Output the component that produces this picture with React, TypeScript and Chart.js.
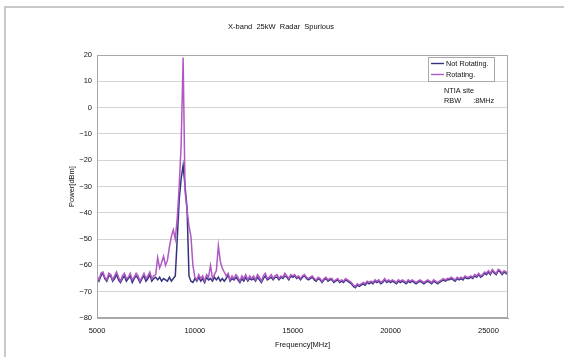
import React, { useEffect, useRef } from 'react';
import { Chart, registerables } from 'chart.js';

Chart.register(...registerables);

// ---- data ----
const FREQ_START = 5000; // MHz, first sweep point
const FREQ_STEP = 100; // MHz between sweep points

// Not Rotating (dBm), 5000 .. 26000 MHz
const NOT_ROTATING: number[] = [
  -64.5, -66, -64, -63, -65, -66, -64, -64, -66, -65,
  -63.5, -65.5, -66.5, -65, -64, -66, -65, -64, -66.5, -65,
  -64, -65, -66.5, -65, -64, -66, -65, -63.5, -66, -65,
  -64.5, -65.5, -64.5, -66, -65, -65.5, -66, -64.5, -66, -65,
  -64, -50, -35, -27, -22, -30, -38, -64, -66, -66.5,
  -65, -66, -64.5, -66, -65, -66.5, -64.5, -65.5, -65, -66,
  -64.5, -65.5, -64.5, -66, -65, -66, -65, -63.5, -66, -65,
  -65.5, -64.5, -65.5, -66.5, -65, -66, -64.5, -66, -65, -65.5,
  -65, -66, -64.5, -65.5, -66.5, -65, -64, -65.5, -65, -64.5,
  -65.5, -64.5, -64.5, -65.5, -64.5, -65, -64, -64.5, -65.5, -64,
  -64.5, -64, -65, -64.5, -65.5, -64.5, -64, -65, -65.5, -65,
  -64.5, -65.5, -66, -65, -65.5, -66.5, -65.5, -65, -66, -65.5,
  -65.5, -66.5, -66, -65.5, -66.5, -66, -66.5, -65.5, -66, -66.5,
  -67, -68, -68.5, -67.5, -68, -67.5, -67, -67.5, -66.5, -67,
  -66.5, -67, -66, -66.5, -66, -67, -66.5, -65.5, -66.5, -66,
  -66.5, -66, -66.5, -67, -66, -66.5, -66, -66.5, -67, -66,
  -66.5, -66, -66.5, -67, -66.5, -66, -66.5, -67, -66.5, -66,
  -66.5, -67, -66, -66.5, -67, -66.5, -66, -65.5, -66, -65.5,
  -65.5, -65, -65.5, -66, -65, -65.5, -65, -65.5, -64.5, -65,
  -65, -64.5, -65, -64, -64.5, -63.5, -64.5, -64, -63, -63.5,
  -62.5, -63.5, -62, -63, -63.5, -62, -62.5, -63.5, -62.5, -63,
  -63.5,
];

// Rotating (dBm), 5000 .. 26000 MHz
const ROTATING: number[] = [
  -64, -65.5, -63, -62.5, -64.5, -65.5, -63, -63.5, -65.5, -64,
  -62.5, -64.5, -66, -64, -63, -65, -64.5, -63, -65.5, -64.5,
  -63, -64, -66, -64.5, -63, -65, -64, -62.5, -65, -64,
  -63.5, -57, -61, -59, -56.5, -60, -58, -53, -49, -46.5,
  -50, -42, -30, -14, 19, -32, -39, -45, -49, -60,
  -64.5, -65.5, -63.5, -65, -64, -66, -63.5, -64.5, -60, -65,
  -63.5, -62, -52.5, -58.5, -61, -62.5, -64, -63, -65.5, -64,
  -65, -63.5, -64.5, -66, -64, -65, -63.5, -65.5, -64, -65,
  -64, -65.5, -63.5, -64.5, -66, -64, -63, -65, -64.5, -63.5,
  -65, -64, -63.5, -65, -64, -64.5, -63, -64, -65, -63.5,
  -64, -63.5, -64.5, -64, -65, -64, -63.5, -64.5, -65, -64.5,
  -64, -65, -65.5, -64.5, -65, -66, -65, -64.5, -65.5, -65,
  -65, -66, -65.5, -65, -66, -65.5, -66, -65, -65.5, -66,
  -66.5, -67.5, -68, -67, -67.5, -67, -66.5, -67, -66, -66.5,
  -66, -66.5, -65.5, -66, -65.5, -66.5, -66, -65, -66, -65.5,
  -66, -65.5, -66, -66.5, -65.5, -66, -65.5, -66, -66.5, -65.5,
  -66, -65.5, -66, -66.5, -66, -65.5, -66, -66.5, -66, -65.5,
  -66, -66.5, -65.5, -66, -66.5, -66, -65.5, -65, -65.5, -65,
  -65, -64.5, -65, -65.5, -64.5, -65, -64.5, -65, -64, -64.5,
  -64.5, -64, -64.5, -63.5, -64, -63, -64, -63.5, -62.5, -63,
  -62, -63, -61.5, -62.5, -63, -61.5, -62, -63, -62, -62.5,
  -63,
];

const X_TICKS = [5000, 10000, 15000, 20000, 25000];
const X_MIN = 5000;
const X_MAX = 26000;
const Y_MIN = -80;
const Y_MAX = 20;
const Y_STEP = 10;

const TITLE = 'X-band  25kW  Radar  Spurious';
const SERIES_NAMES = ['Not Rotating.', 'Rotating.'];
const SERIES_COLORS = ['#33337f', '#b058c4'];
const NOTE_LINES = ['NTIA site', 'RBW      :8MHz'];
const X_TITLE = 'Frequency[MHz]';
const Y_TITLE = 'Power[dBm]';

const FONT = "'Liberation Sans', Arial, sans-serif";
const TEXT = '#111111';
const BORDER = '#a8a8a8';
const GRID = '#d4d4d4';

const toPoints = (vals: number[]) =>
  vals.map((v, i) => ({ x: FREQ_START + i * FREQ_STEP, y: v }));

const overlay = {
  id: 'overlay',
  afterDraw(chart: any) {
    const { ctx, chartArea: a } = chart;
    ctx.save();
    // plot frame
    ctx.strokeStyle = BORDER;
    ctx.lineWidth = 1;
    ctx.strokeRect(
      Math.round(a.left) + 0.5,
      Math.round(a.top) + 0.5,
      Math.round(a.right - a.left) - 1,
      Math.round(a.bottom - a.top) - 1
    );
    // title
    ctx.fillStyle = TEXT;
    ctx.font = `7.5px ${FONT}`;
    ctx.textAlign = 'center';
    ctx.textBaseline = 'middle';
    ctx.fillText(TITLE, 281, 27);
    // legend box
    const lx = 428, ly = 57, lw = 66, lh = 24;
    ctx.fillStyle = '#ffffff';
    ctx.fillRect(lx, ly, lw, lh);
    ctx.strokeStyle = BORDER;
    ctx.lineWidth = 1;
    ctx.strokeRect(lx + 0.5, ly + 0.5, lw, lh);
    ctx.font = `7.3px ${FONT}`;
    ctx.textAlign = 'left';
    SERIES_NAMES.forEach((name, i) => {
      const y = ly + 6.5 + i * 11;
      ctx.strokeStyle = SERIES_COLORS[i];
      ctx.lineWidth = 1.4;
      ctx.beginPath();
      ctx.moveTo(lx + 3, y);
      ctx.lineTo(lx + 16, y);
      ctx.stroke();
      ctx.fillStyle = TEXT;
      ctx.fillText(name, lx + 18, y);
    });
    // note
    ctx.font = `7.3px ${FONT}`;
    NOTE_LINES.forEach((t, i) => {
      ctx.fillText(t, 444, 91 + i * 10);
    });
    ctx.restore();
  },
};

export default function App() {
  const ref = useRef<HTMLCanvasElement | null>(null);

  useEffect(() => {
    if (!ref.current) return;
    const chart = new Chart(ref.current, {
      type: 'line',
      data: {
        datasets: [
          {
            label: SERIES_NAMES[0],
            data: toPoints(NOT_ROTATING),
            borderColor: SERIES_COLORS[0],
            borderWidth: 1.5,
            pointRadius: 0,
            tension: 0,
            order: 1,
          },
          {
            label: SERIES_NAMES[1],
            data: toPoints(ROTATING),
            borderColor: SERIES_COLORS[1],
            borderWidth: 1.5,
            pointRadius: 0,
            tension: 0,
            order: 0,
          },
        ],
      },
      options: {
        animation: false,
        responsive: false,
        devicePixelRatio: 1,
        parsing: false as any,
        layout: { padding: { left: 0, top: 55, right: 56, bottom: 0 } },
        plugins: {
          legend: { display: false },
          title: { display: false },
          tooltip: { enabled: false },
        },
        scales: {
          x: {
            type: 'linear',
            min: X_MIN,
            max: X_MAX,
            afterBuildTicks: (s: any) => {
              s.ticks = X_TICKS.map((v) => ({ value: v }));
            },
            afterFit: (s: any) => {
              s.height = 39;
            },
            grid: { display: false, drawTicks: false },
            border: { display: true, color: BORDER },
            ticks: {
              padding: 8,
              color: TEXT,
              font: { family: FONT, size: 7.5 },
              maxRotation: 0,
              callback: (v: any) => String(v),
            },
            title: {
              display: true,
              text: X_TITLE,
              color: TEXT,
              font: { family: FONT, size: 7.5 },
              padding: { top: 0, bottom: 7.5 },
            },
          },
          y: {
            type: 'linear',
            min: Y_MIN,
            max: Y_MAX,
            afterFit: (s: any) => {
              s.width = 97;
            },
            grid: { color: GRID, drawTicks: false },
            border: { display: true, color: BORDER },
            ticks: {
              stepSize: Y_STEP,
              padding: 5,
              color: TEXT,
              font: { family: FONT, size: 7.5 },
              callback: (v: any) => (v < 0 ? '\u2212' + Math.abs(v) : String(v)),
            },
            title: {
              display: true,
              text: Y_TITLE,
              color: TEXT,
              font: { family: FONT, size: 7.5 },
              padding: { top: 67.5, bottom: 0 },
            },
          },
        },
      },
      plugins: [overlay],
    });
    return () => chart.destroy();
  }, []);

  return (
    <div style={{ position: 'fixed', left: 0, top: 0, width: 564, height: 357, background: '#ffffff', overflow: 'hidden' }}>
      <div
        style={{
          position: 'absolute',
          left: 4,
          top: 6,
          width: 700,
          height: 500,
          border: '2px solid #c8c8c8',
        }}
      />
      <canvas
        ref={ref}
        width={564}
        height={357}
        style={{ position: 'absolute', left: 0, top: 0, width: 564, height: 357 }}
      />
    </div>
  );
}
